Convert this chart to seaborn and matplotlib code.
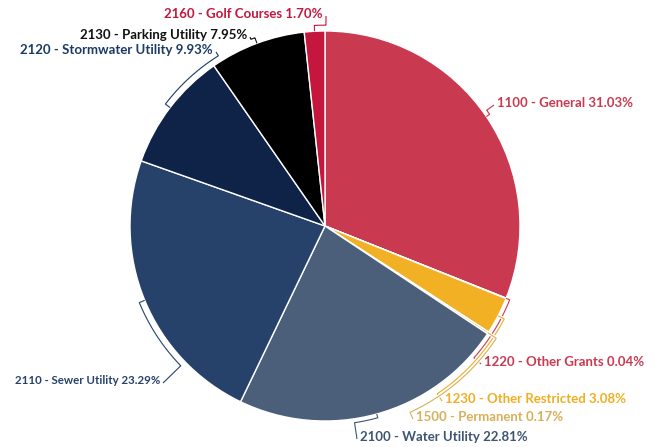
import numpy as np
import matplotlib
matplotlib.use("Agg")
import matplotlib.pyplot as plt
import matplotlib.patheffects as pe
import seaborn as sns

# fund shares, clockwise from 12 o'clock
funds = ["1100 - General", "1220 - Other Grants", "1230 - Other Restricted",
         "1500 - Permanent", "2100 - Water Utility", "2110 - Sewer Utility",
         "2120 - Stormwater Utility", "2130 - Parking Utility", "2160 - Golf Courses"]
shares = [31.03, 0.04, 3.08, 0.17, 22.81, 23.29, 9.93, 7.95, 1.70]

slice_colors = ["#C93A50", "#C93A50", "#F2B024", "#E3C078", "#4B5F7B",
                "#27426A", "#0E2347", "#000000", "#C5163D"]
text_colors = ["#C93A50", "#C93A50", "#F0AE22", "#D6B05A", "#3D5573",
               "#27426A", "#1B3A66", "#111111", "#C5163D"]

# label anchor in pixels (x, y, ha), font size and radius of its leader arc
label_pos = [(497, 103, "left"), (484, 362, "left"), (445, 399, "left"),
             (416, 417, "left"), (360, 437, "left"), (160, 381, "right"),
             (213, 50, "right"), (247, 35, "right"), (323, 14, "right")]
label_size = [9.5, 9.5, 9.5, 9.5, 9.5, 8.3, 9.5, 9.5, 9.5]
leader_r = [1.02, 1.02, 1.035, 1.05, 1.02, 1.03, 1.03, 1.03, 1.03]

sns.set_theme(style="white")
plt.rcParams["font.family"] = ["Lato", "DejaVu Sans"]

W, H = 655, 447
cx, cy, R = 325, 226, 195

fig = plt.figure(figsize=(W / 100, H / 100), dpi=100)
ax = fig.add_axes([0, 0, 1, 1])

wedges, _ = ax.pie(shares, colors=slice_colors, startangle=90, counterclock=False,
                   radius=1, center=(0, 0),
                   wedgeprops=dict(edgecolor="white", linewidth=1))

# pie() resets the limits, so set them afterwards
ax.set_xlim((0 - cx) / R, (W - cx) / R)
ax.set_ylim((cy - H) / R, cy / R)
ax.set_aspect("equal")
ax.axis("off")

def px(x, y):
    return (x - cx) / R, (cy - y) / R

halo = [pe.withStroke(linewidth=2.4, foreground="white")]
total = sum(shares)
cum = 0
for name, val, col, (lx, ly, ha), fs, r in zip(funds, shares, text_colors,
                                               label_pos, label_size, leader_r):
    mid = (cum + val / 2) / total * 2 * np.pi
    cum += val
    tx, ty = px(lx, ly)
    ax.text(tx, ty, f"{name} {val:.2f}%", ha=ha, va="center",
            fontsize=fs, fontweight="bold", color=col)
    # leader: follow the rim from the slice middle, then tick to the label
    ex, ey = px(lx - 3 if ha == "left" else lx + 3, ly + 2)
    end = np.arctan2(ex, ey)
    diff = (end - mid + np.pi) % (2 * np.pi) - np.pi
    arc = mid + np.linspace(0, diff, 40)
    xs = list(r * np.sin(arc)) + [ex]
    ys = list(r * np.cos(arc)) + [ey]
    ax.plot([np.sin(mid)] + xs, [np.cos(mid)] + ys, color=col, lw=0.8,
            path_effects=halo, solid_capstyle="butt")

fig.savefig("out.png", dpi=100)
